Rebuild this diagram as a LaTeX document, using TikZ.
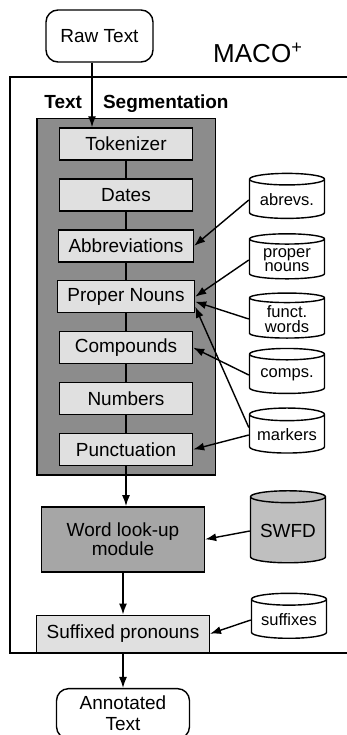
\documentclass[tikz,border=0pt]{standalone}
\usepackage{fontspec}
\setmainfont{Liberation Sans}
\usetikzlibrary{arrows.meta,positioning,shapes.geometric,fit,backgrounds}

\begin{document}
\begin{tikzpicture}[
    node distance=0.35cm and 0.35cm,
    box/.style={rectangle, draw, line width=0.8pt, fill=black!12, align=center, minimum width=2.66cm, minimum height=0.64cm, inner xsep=0.2cm, font=\fontsize{10.8}{11}\selectfont},
    term/.style={box, fill=white, rounded corners=0.24cm, minimum height=1.06cm},
    store/.style={cylinder, shape border rotate=90, aspect=0.2, draw, line width=0.8pt, fill=white, align=center, minimum width=1.5cm, minimum height=0.9cm, inner sep=1pt, font=\fontsize{9.4}{8.2}\selectfont},
    link/.style={line width=0.8pt},
    arrow/.style={-{Latex[length=2.2mm, width=1.6mm]}, line width=0.8pt}
]
\useasboundingbox (0,0) rectangle (6.94,-14.7);

\node[term, minimum width=2.14cm, minimum height=1.04cm] (raw) at (1.99,-0.72) {Raw Text};
\node[anchor=base, font=\fontsize{14.8}{16}\selectfont] (maco) at (5.16,-1.26) {MACO\textsuperscript{+}};

% outer module frame, open on the right
\draw[line width=1.1pt] (6.94,-1.54) -- (0.2,-1.54) -- (0.2,-13.06) -- (6.94,-13.06);

% segmentation chain
\node[box] (tok) at (2.52,-2.88) {Tokenizer};
\node[box, below=of tok] (dates) {Dates};
\node[box, below=of dates] (abbr) {Abbreviations};
\node[box, below=of abbr] (pnoun) {Proper Nouns};
\node[box, below=of pnoun] (comp) {Compounds};
\node[box, below=of comp] (num) {Numbers};
\node[box, below=of num] (punc) {Punctuation};
\begin{scope}[on background layer]
\node[draw, line width=0.8pt, fill=black!45, inner xsep=0.42cm, inner ysep=0.18cm, fit=(tok)(abbr)(punc)] (seg) {};
\end{scope}
\node[anchor=base west, inner sep=0, font=\bfseries\fontsize{10.8}{11}\selectfont] (segtitle) at ([xshift=0.16cm, yshift=0.18cm]seg.north west) {Text\hspace{0.42cm}Segmentation};

% later stages
\node[box, fill=black!35, minimum width=3.26cm, minimum height=1.3cm, font=\fontsize{10.8}{9.7}\selectfont, below=0.8cm of punc, xshift=-0.06cm] (wl) {Word look-up\\module};
\node[box, minimum width=3.3cm, minimum height=0.74cm, below=0.84cm of wl] (suf) {Suffixed pronouns};
\node[term, minimum width=2.66cm, minimum height=1.0cm, inner ysep=1pt, font=\fontsize{10.8}{12}\selectfont, below=0.7cm of suf] (annot) {Annotated\\Text};

% resources
\node[store] (abrevs) at (5.74,-4.0) {abrevs.};
\node[store] (pndb) at (5.74,-5.2) {proper\\nouns};
\node[store] (fwdb) at (5.74,-6.38) {funct.\\words};
\node[store] (compdb) at (5.74,-7.5) {comps.};
\node[store] (markers) at (5.74,-8.7) {markers};
\node[store, fill=black!25, minimum height=1.44cm, font=\fontsize{10.8}{11}\selectfont] (swfd) at (5.76,-10.62) {SWFD};
\node[store] (sufdb) at (5.78,-12.4) {suffixes};

\draw[arrow] ([xshift=-0.15cm]raw.south) -- ([xshift=-0.15cm]raw.south |- tok.north);
\draw[link] (tok.south) -- (dates.north);
\draw[link] (dates.south) -- (abbr.north);
\draw[link] (abbr.south) -- (pnoun.north);
\draw[link] (pnoun.south) -- (comp.north);
\draw[link] (comp.south) -- (num.north);
\draw[link] (num.south) -- (punc.north);
\draw[arrow] (abrevs.west) -- (abbr.east);
\draw[arrow] (pndb.west) -- (pnoun.east);
\draw[arrow] (fwdb.west) -- ([yshift=-0.1cm]pnoun.east);
\draw[arrow] ([yshift=0.15cm]markers.west) -- ([yshift=-0.2cm]pnoun.east);
\draw[arrow] (compdb.west) -- (comp.east);
\draw[arrow] (markers.west) -- (punc.east);
\draw[arrow] (punc.south) -- (punc.south |- wl.north);
\draw[arrow] (swfd.west) -- (wl.east);
\draw[arrow] (wl.south) -- (wl.south |- suf.north);
\draw[arrow] (sufdb.west) -- (suf.east);
\draw[arrow] (suf.south) -- (suf.south |- annot.north);
\end{tikzpicture}
\end{document}
